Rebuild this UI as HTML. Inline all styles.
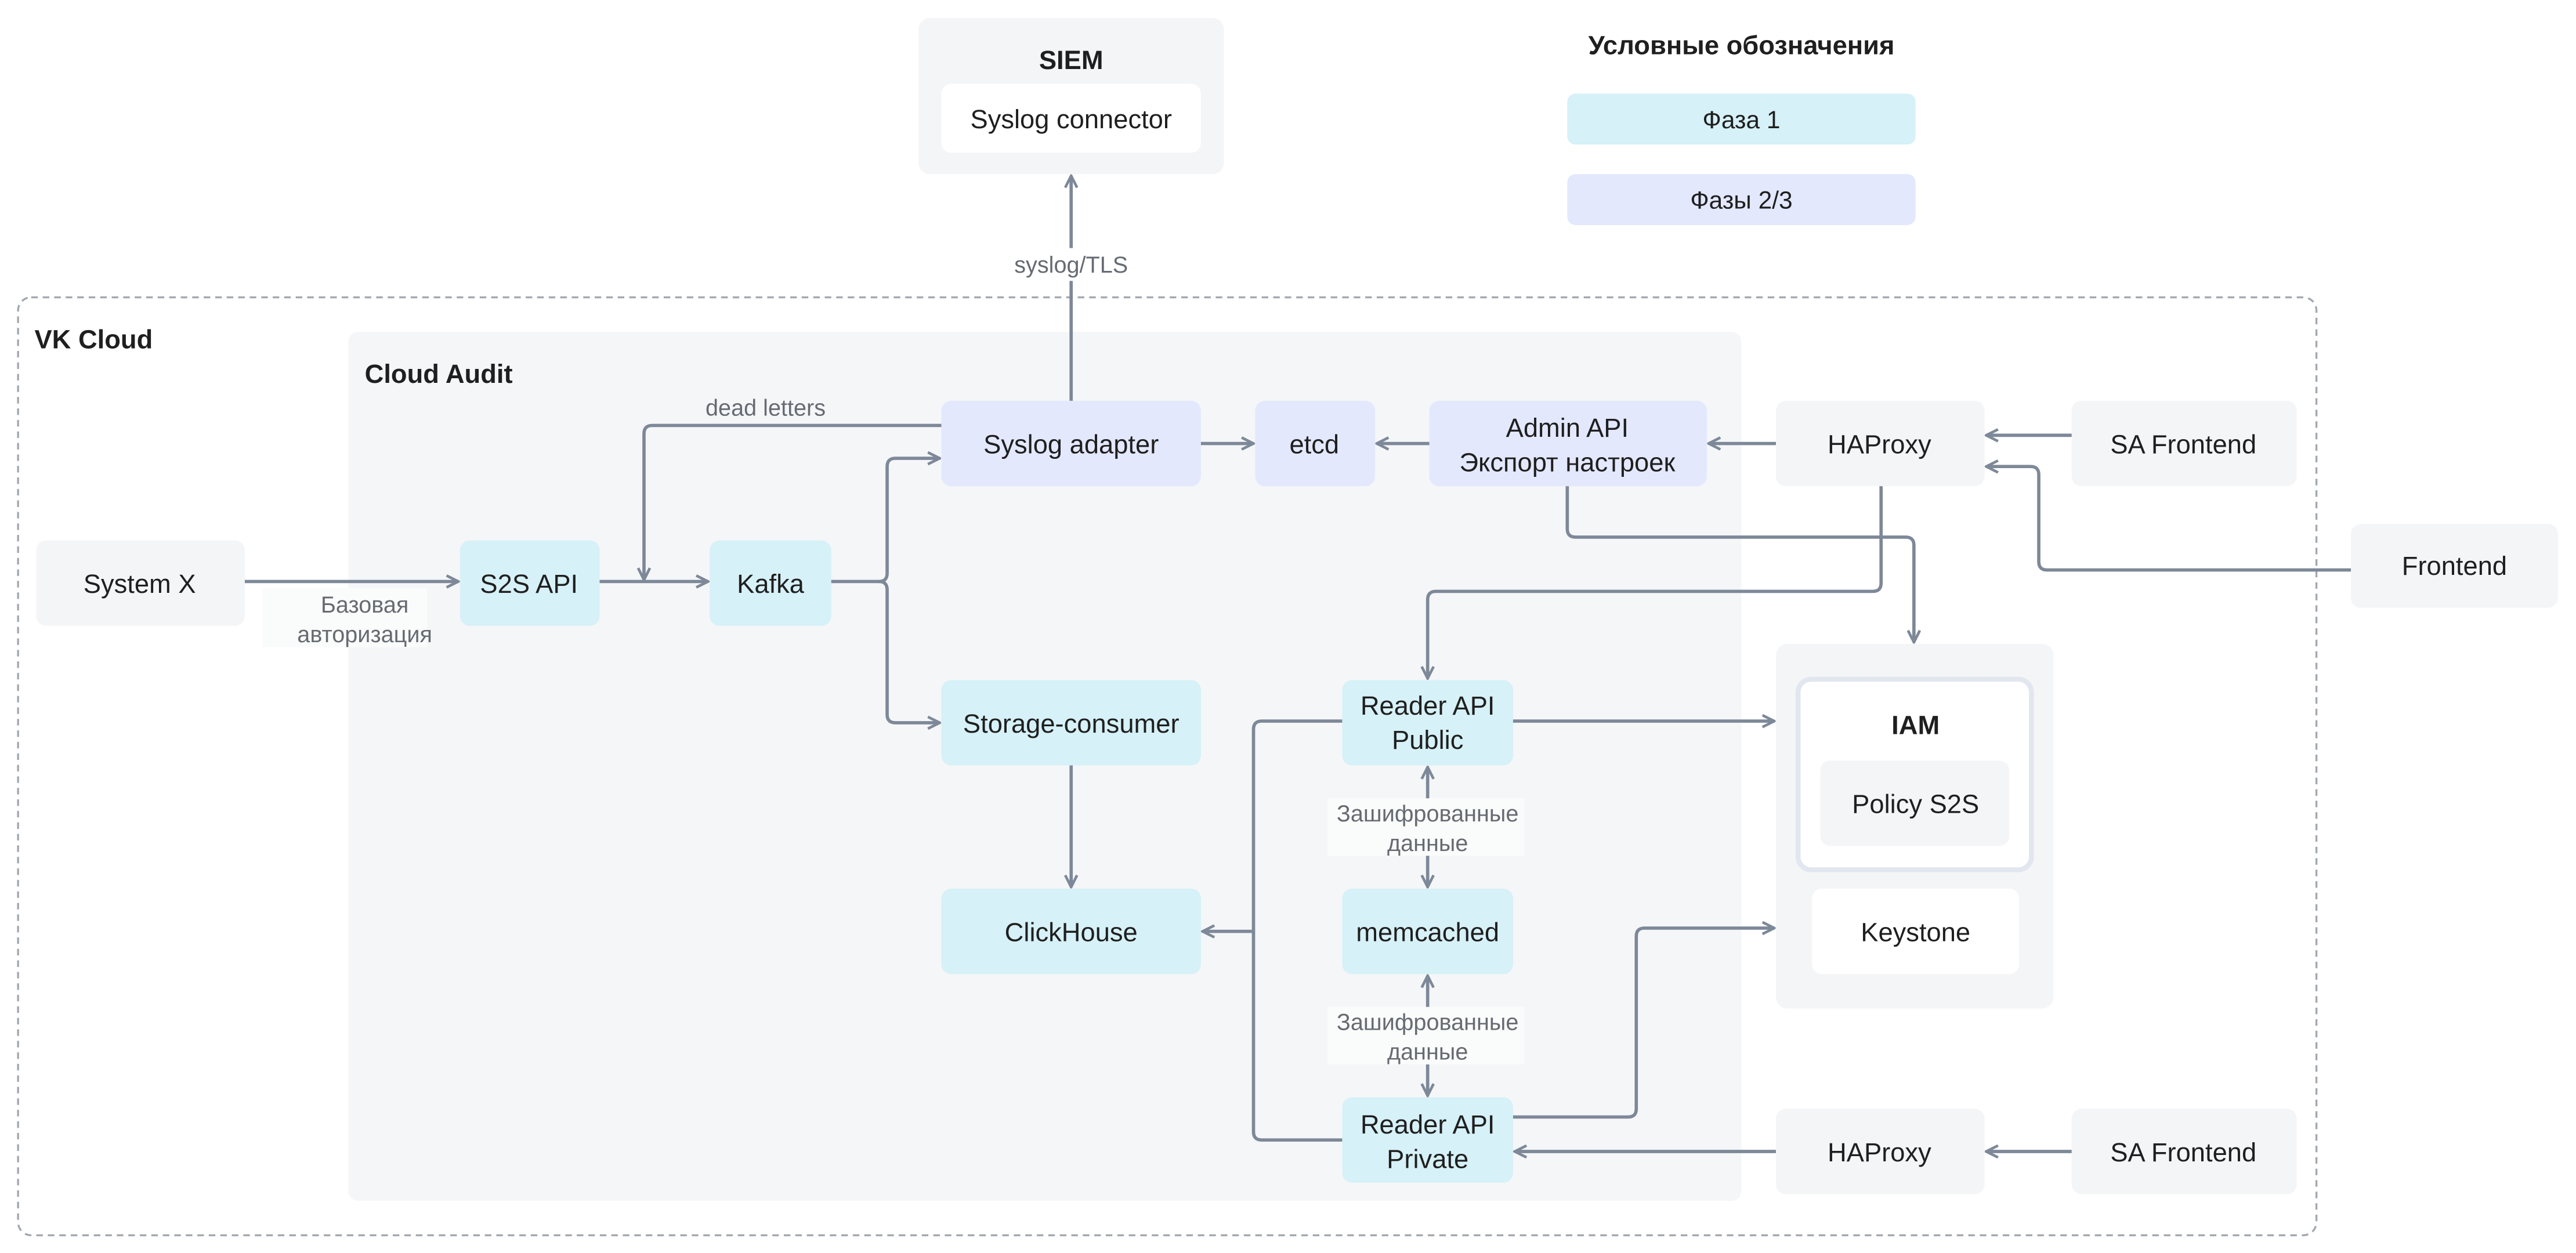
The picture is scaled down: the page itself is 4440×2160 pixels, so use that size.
<!DOCTYPE html>
<html><head><meta charset="utf-8"><style>
html,body{margin:0;padding:0;background:#fff;}
svg{display:block;}
text{font-family:"Liberation Sans","Noto Sans CJK SC",sans-serif;fill:#1f1f1f;}
.n{font-size:16px;text-anchor:middle;}
.b{font-weight:bold;}
.l{font-size:14px;fill:#666b72;text-anchor:middle;}
.c{fill:none;stroke:#7d8898;stroke-width:2;stroke-linejoin:round;}
</style></head><body>
<svg width="4440" height="2160" viewBox="0 0 1568 762.8" preserveAspectRatio="none" xmlns="http://www.w3.org/2000/svg">
<defs>
<marker id="a" viewBox="0 0 10 10" refX="9" refY="5" markerWidth="9" markerHeight="9" markerUnits="userSpaceOnUse" orient="auto-start-reverse">
<path d="M1,1 L9,5 L1,9" fill="none" stroke="#7d8898" stroke-width="1.8"/>
</marker>
</defs>
<rect width="1568" height="763" fill="#fff"/>
<!-- SIEM -->
<rect x="559" y="11" width="186" height="95" rx="7" fill="#f4f5f7"/>
<text x="652" y="42" class="n b">SIEM</text>
<rect x="573" y="51" width="158" height="42" rx="6" fill="#fff"/>
<text x="652" y="78" class="n">Syslog connector</text>
<!-- Legend -->
<text x="1060" y="33" class="n b">Условные обозначения</text>
<rect x="954" y="57" width="212" height="31" rx="5" fill="#d6f1f7"/>
<text x="1060" y="78" class="n" style="font-size:15px">Фаза 1</text>
<rect x="954" y="106" width="212" height="31" rx="5" fill="#e3e8fd"/>
<text x="1060" y="127" class="n" style="font-size:15px">Фазы 2/3</text>
<!-- VK Cloud -->
<rect x="11" y="181" width="1399" height="571" rx="8" fill="none" stroke="#a3a8b0" stroke-width="1.2" stroke-dasharray="4 3"/>
<text x="21" y="212" class="b" style="font-size:16px">VK Cloud</text>
<!-- Cloud Audit -->
<rect x="212" y="202" width="848" height="529" rx="6" fill="#f5f6f8"/>
<text x="222" y="233" class="b" style="font-size:16px">Cloud Audit</text>
<!-- Nodes -->
<rect x="22" y="329" width="127" height="52" rx="6" fill="#f4f5f7"/><text x="85" y="361" class="n">System X</text>
<rect x="280" y="329" width="85" height="52" rx="6" fill="#d6f1f7"/><text x="322" y="361" class="n">S2S API</text>
<rect x="432" y="329" width="74" height="52" rx="6" fill="#d6f1f7"/><text x="469" y="361" class="n">Kafka</text>
<rect x="573" y="244" width="158" height="52" rx="6" fill="#e3e8fd"/><text x="652" y="276" class="n">Syslog adapter</text>
<rect x="764" y="244" width="73" height="52" rx="6" fill="#e3e8fd"/><text x="800" y="276" class="n">etcd</text>
<rect x="870" y="244" width="169" height="52" rx="6" fill="#e3e8fd"/><text x="954" y="266" class="n">Admin API</text><text x="954" y="287" class="n">Экспорт настроек</text>
<rect x="1081" y="244" width="127" height="52" rx="6" fill="#f4f5f7"/><text x="1144" y="276" class="n">HAProxy</text>
<rect x="1261" y="244" width="137" height="52" rx="6" fill="#f4f5f7"/><text x="1329" y="276" class="n">SA Frontend</text>
<rect x="1431" y="319" width="126" height="51" rx="6" fill="#f4f5f7"/><text x="1494" y="350" class="n">Frontend</text>
<rect x="573" y="414" width="158" height="52" rx="6" fill="#d6f1f7"/><text x="652" y="446" class="n">Storage-consumer</text>
<rect x="573" y="541" width="158" height="52" rx="6" fill="#d6f1f7"/><text x="652" y="573" class="n">ClickHouse</text>
<rect x="817" y="414" width="104" height="52" rx="6" fill="#d6f1f7"/><text x="869" y="435" class="n">Reader API</text><text x="869" y="456" class="n">Public</text>
<rect x="817" y="541" width="104" height="52" rx="6" fill="#d6f1f7"/><text x="869" y="573" class="n">memcached</text>
<rect x="817" y="668" width="104" height="52" rx="6" fill="#d6f1f7"/><text x="869" y="690" class="n">Reader API</text><text x="869" y="711" class="n">Private</text>
<rect x="1081" y="392" width="169" height="222" rx="7" fill="#f4f5f7"/>
<rect x="1094.5" y="413.5" width="142" height="116" rx="8" fill="#fff" stroke="#e2e6ef" stroke-width="3"/>
<text x="1166" y="447" class="n b">IAM</text>
<rect x="1108" y="463" width="115" height="52" rx="6" fill="#f4f5f7"/><text x="1166" y="495" class="n">Policy S2S</text>
<rect x="1103" y="541" width="126" height="52" rx="6" fill="#fff"/><text x="1166" y="573" class="n">Keystone</text>
<rect x="1081" y="675" width="127" height="52" rx="6" fill="#f4f5f7"/><text x="1144" y="707" class="n">HAProxy</text>
<rect x="1261" y="675" width="137" height="52" rx="6" fill="#f4f5f7"/><text x="1329" y="707" class="n">SA Frontend</text>
<!-- Connectors -->
<path class="c" d="M652,244 V107" marker-end="url(#a)"/>
<rect x="610" y="151" width="84" height="20" fill="#fff"/>
<text x="652" y="166" class="l">syslog/TLS</text>
<path class="c" d="M573,259 H397 Q392,259 392,264 V353" marker-end="url(#a)"/>
<text x="466" y="253" class="l">dead letters</text>
<path class="c" d="M149,354 H279" marker-end="url(#a)"/>
<rect x="160" y="358" width="100" height="36" fill="#fafbfb"/>
<text x="222" y="373" class="l">Базовая</text>
<text x="222" y="391" class="l">авторизация</text>
<path class="c" d="M365,354 H431" marker-end="url(#a)"/>
<path class="c" d="M506,354 H535 Q540,354 540,349 V284 Q540,279 545,279 H572" marker-end="url(#a)"/>
<path class="c" d="M535,354 Q540,354 540,359 V435 Q540,440 545,440 H572" marker-end="url(#a)"/>
<path class="c" d="M731,270 H763" marker-end="url(#a)"/>
<path class="c" d="M870,270 H838" marker-end="url(#a)"/>
<path class="c" d="M1081,270 H1040" marker-end="url(#a)"/>
<path class="c" d="M1261,265 H1209" marker-end="url(#a)"/>
<path class="c" d="M1431,347 H1246 Q1241,347 1241,342 V289 Q1241,284 1236,284 H1209" marker-end="url(#a)"/>
<path class="c" d="M1145,296 V355 Q1145,360 1140,360 H874 Q869,360 869,365 V413" marker-end="url(#a)"/>
<path class="c" d="M954,296 V322 Q954,327 959,327 H1160 Q1165,327 1165,332 V391" marker-end="url(#a)"/>
<path class="c" d="M921,439 H1080" marker-end="url(#a)"/>
<path class="c" d="M817,439 H768 Q763,439 763,444 V689 Q763,694 768,694 H817"/>
<path class="c" d="M763,567 H732" marker-end="url(#a)"/>
<path class="c" d="M652,466 V540" marker-end="url(#a)"/>
<path class="c" d="M869,467 V540" marker-start="url(#a)" marker-end="url(#a)"/>
<rect x="808" y="486" width="120" height="35" fill="#fafbfb"/>
<text x="869" y="500" class="l">Зашифрованные</text>
<text x="869" y="518" class="l">данные</text>
<path class="c" d="M869,594 V667" marker-start="url(#a)" marker-end="url(#a)"/>
<rect x="808" y="613" width="120" height="35" fill="#fafbfb"/>
<text x="869" y="627" class="l">Зашифрованные</text>
<text x="869" y="645" class="l">данные</text>
<path class="c" d="M921,680 H991 Q996,680 996,675 V570 Q996,565 1001,565 H1080" marker-end="url(#a)"/>
<path class="c" d="M1081,701 H922" marker-end="url(#a)"/>
<path class="c" d="M1261,701 H1209" marker-end="url(#a)"/>
</svg>
</body></html>
